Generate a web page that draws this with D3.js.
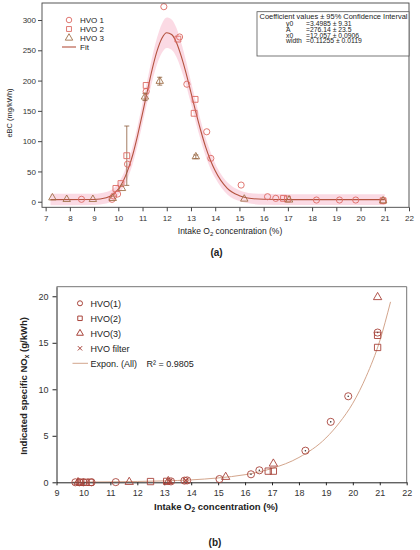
<!DOCTYPE html>
<html>
<head>
<meta charset="utf-8">
<script src="https://cdn.jsdelivr.net/npm/d3@7"></script>
<style>
  body { margin: 0; background: #fff; }
  text { font-family: "Liberation Sans", Arial, sans-serif; }
</style>
</head>
<body>
<script>
// ---- panel (a): eBC vs intake O2 ----
let hvo1A = [[8.48,4],[9.74,4],[9.81,9.4],[9.97,12.7],[10.38,62],[11.15,182],[11.88,322],[12.53,272],[12.83,194],[13.65,115.5],[13.82,71.6],[15.07,27.5],[16.16,8.3],[16.5,5.6],[18.18,2.8],[19.13,2.8],[19.8,2.8],[20.93,1.7]]
let hvo2A = [[9.9,22],[10.11,30],[10.35,76],[11.15,192],[12.46,268.5],[13.17,169],[13.13,146],[16.82,5.6],[16.98,4.5],[20.93,1.7]]
let hvo3A = [[7.28,6.6],[7.87,4],[8.95,4],[9.77,5.6],[10.15,22],[11.1,173],[11.71,199],[13.2,74.3],[15.2,4.5],[17.05,3],[20.93,1.7]]
// error bars: [x, y, +/-]
let errA = [[10.35,76,49],[11.1,173,6],[11.71,199,6.5],[13.2,74.3,3]]

let fitX  = [7.2, 9.0, 9.5, 9.8, 10.0, 10.2, 10.4, 10.6, 10.8, 11.0, 11.2, 11.4, 11.6, 11.8, 12.0, 12.2, 12.4, 12.6, 12.8, 13.0, 13.2, 13.4, 13.6, 13.8, 14.0, 14.5, 15.0, 15.5, 16.0, 17.0, 21.0]
let fitY  = [3.5, 3.8, 6.6, 12.8, 21, 34, 53, 78, 110, 146, 183, 219, 249, 270, 279, 276, 263, 240, 212, 180, 148, 118, 91, 69, 51, 22, 10, 5.4, 4, 3.5, 3.5]
let bandHi = [13, 13, 16, 22, 31, 45, 66, 93, 126, 163, 201, 239, 271, 294, 304, 301, 287, 262, 232, 198, 165, 134, 106, 83, 63, 32, 19, 14, 13, 12.5, 12.5]
let bandLo = [-6, -5.5, -3, 3, 11, 23, 40, 63, 94, 129, 165, 199, 227, 246, 254, 251, 239, 218, 192, 162, 131, 102, 76, 55, 39, 12, 1, -3.5, -5, -5.5, -5.5]

let coefNames = ["y0", "A", "x0", "width"]
let coefValues = ["=3.4985 \u00b1 9.31", "=276.14 \u00b1 23.5", "=12.057 \u00b1 0.0906", "=0.11255 \u00b1 0.0119"]

// ---- panel (b): NOx vs intake O2 ----
let hvo1B = [[9.7,0],[9.85,0],[10.0,0],[10.3,0],[11.2,0.02],[13.25,0.1],[13.75,0.18],[13.85,0.2],[15.05,0.35],[16.22,0.86],[16.53,1.29],[18.24,3.4],[19.18,6.5],[19.83,9.25],[20.92,16.1]]
let hvo2B = [[9.9,0],[10.1,0],[10.25,0],[12.49,0.08],[13.09,0.1],[16.86,1.2],[17.05,1.2],[20.92,15.8],[20.92,14.5]]
let hvo3B = [[9.8,0],[11.7,0.03],[13.15,0.12],[15.28,0.57],[17.05,2.0],[20.92,19.9]]
let filterB = [[13.2,0.12],[13.8,0.2]]
let expX = [9.6, 11, 12, 13, 14, 15, 16, 17, 18, 19, 19.5, 20, 20.5, 21, 21.4]
let expY = [0.02, 0.05, 0.09, 0.15, 0.26, 0.47, 0.82, 1.49, 2.67, 4.76, 6.4, 8.5, 11.4, 15.2, 19.4]

let xTicksA = d3.range(7, 23)
let yTicksA = [0, 50, 100, 150, 200, 250, 300]
let xTicksB = d3.range(9, 23)
let yTicksB = [0, 5, 10, 15, 20]

let markA = "#dc6a63"
let fitA = "#b4533f"
let markB = "#a8433a"
let fitB = "#d3a58c"

let svg = d3.select("body").append("svg")
    .attr("width", 420)
    .attr("height", 550)

// ================= panel (a) =================
let xA = d3.scaleLinear().domain([6.85, 22]).range([42, 409])
let yA = d3.scaleLinear().domain([-9.2, 328.1]).range([207.3, 3])

let gA = svg.append("g")

gA.append("path")
    .datum(fitX.map((x, i) => [x, bandLo[i], bandHi[i]]))
    .attr("fill", "#fad3df")
    .attr("opacity", 0.85)
    .attr("d", d3.area().curve(d3.curveMonotoneX)
      .x(d => xA(d[0])).y0(d => yA(d[1])).y1(d => yA(d[2])))

gA.append("path")
    .datum(fitX.map((x, i) => [x, fitY[i]]))
    .attr("fill", "none")
    .attr("stroke", fitA)
    .attr("stroke-width", 1.1)
    .attr("d", d3.line().curve(d3.curveMonotoneX).x(d => xA(d[0])).y(d => yA(d[1])))

gA.selectAll(".err").data(errA).enter().append("path")
    .attr("fill", "none")
    .attr("stroke", "#8a5a3a")
    .attr("stroke-width", 0.8)
    .attr("d", d => {
      let x = xA(d[0]), y1 = yA(d[1] - d[2]), y2 = yA(d[1] + d[2])
      return "M" + x + "," + y1 + "V" + y2 + "M" + (x - 2.5) + "," + y1 + "H" + (x + 2.5) + "M" + (x - 2.5) + "," + y2 + "H" + (x + 2.5)
    })

function drawMarks(g, data, type, size, color, xs, ys, sw) {
  g.selectAll(null).data(data).enter().append("path")
      .attr("transform", d => "translate(" + xs(d[0]) + "," + ys(d[1]) + ")")
      .attr("d", d3.symbol().type(type).size(size))
      .attr("fill", "none")
      .attr("stroke", color)
      .attr("stroke-width", sw)
}

drawMarks(gA, hvo1A, d3.symbolCircle, 30, markA, xA, yA, 0.9)
drawMarks(gA, hvo2A, d3.symbolSquare, 34, markA, xA, yA, 0.9)
drawMarks(gA, hvo3A, d3.symbolTriangle, 24, "#a0704a", xA, yA, 0.9)

// frame
gA.append("rect")
    .attr("x", 42).attr("y", 3).attr("width", 367).attr("height", 204.3)
    .attr("fill", "none").attr("stroke", "#444").attr("stroke-width", 0.9)

let axA = gA.append("g")
    .attr("transform", "translate(0,207.3)")
    .call(d3.axisBottom(xA).tickValues(xTicksA).tickSize(4).tickSizeOuter(0))
let ayA = gA.append("g")
    .attr("transform", "translate(42,0)")
    .call(d3.axisLeft(yA).tickValues(yTicksA).tickSize(4).tickSizeOuter(0))
;[axA, ayA].forEach(a => {
  a.select(".domain").remove()
  a.selectAll("line").attr("stroke", "#444")
  a.selectAll("text").attr("font-size", 8).attr("fill", "#333")
    .attr("font-family", "Liberation Sans, Arial, sans-serif")
})
axA.selectAll("text").attr("y", 8)
ayA.selectAll("text").attr("x", -6)

let xlabA = gA.append("text")
    .attr("x", 230).attr("y", 234)
    .attr("text-anchor", "middle")
    .attr("font-size", 8.5).attr("fill", "#222")
xlabA.append("tspan").text("Intake O")
xlabA.append("tspan").text("2").attr("font-size", 6).attr("dy", 2)
xlabA.append("tspan").text(" concentration (%)").attr("dy", -2)

gA.append("text")
    .attr("transform", "translate(12,113) rotate(-90)")
    .attr("text-anchor", "middle")
    .attr("font-size", 7.5).attr("fill", "#222")
    .text("eBC (mg/kWh)")

// legend (a)
let legA = [["HVO 1", d3.symbolCircle, markA], ["HVO 2", d3.symbolSquare, markA], ["HVO 3", d3.symbolTriangle, "#a0704a"]]
legA.forEach((l, i) => {
  let y = 20 + i * 9
  gA.append("path")
      .attr("transform", "translate(69," + y + ")")
      .attr("d", d3.symbol().type(l[1]).size(24))
      .attr("fill", "none").attr("stroke", l[2]).attr("stroke-width", 0.9)
  gA.append("text").attr("x", 80).attr("y", y + 3)
      .attr("font-size", 8).attr("fill", "#222").text(l[0])
})
gA.append("line").attr("x1", 62).attr("x2", 76).attr("y1", 47).attr("y2", 47)
    .attr("stroke", fitA).attr("stroke-width", 1.1)
gA.append("text").attr("x", 80).attr("y", 50)
    .attr("font-size", 8).attr("fill", "#222").text("Fit")

// coefficient box
gA.append("rect")
    .attr("x", 257).attr("y", 11.7).attr("width", 152).attr("height", 44.3)
    .attr("fill", "#fff").attr("stroke", "#555").attr("stroke-width", 0.8)
gA.append("text").attr("x", 259.5).attr("y", 18.5)
    .attr("font-size", 7).attr("fill", "#222")
    .attr("textLength", 148).attr("lengthAdjust", "spacingAndGlyphs")
    .text("Coefficient values \u00b1 95% Confidence Interval")
coefNames.forEach((n, i) => {
  let y = 26 + i * 5.8
  gA.append("text").attr("x", 286).attr("y", y)
      .attr("font-size", 6.8).attr("fill", "#222").text(n)
  gA.append("text").attr("x", 306).attr("y", y)
      .attr("font-size", 6.8).attr("fill", "#222").text(coefValues[i])
})

svg.append("text")
    .attr("x", 216.5).attr("y", 256)
    .attr("text-anchor", "middle")
    .attr("font-family", "Liberation Serif, Times New Roman, serif")
    .attr("font-weight", "bold").attr("font-size", 10).attr("fill", "#222")
    .text("(a)")

// ================= panel (b) =================
let xB = d3.scaleLinear().domain([9, 22]).range([56.5, 406.7])
let yB = d3.scaleLinear().domain([0, 21.03]).range([482.3, 286.7])

let gB = svg.append("g")

gB.append("path")
    .datum(expX.map((x, i) => [x, expY[i]]))
    .attr("fill", "none")
    .attr("stroke", fitB)
    .attr("stroke-width", 1)
    .attr("d", d3.line().curve(d3.curveMonotoneX).x(d => xB(d[0])).y(d => yB(d[1])))

// frame lines top/right
gB.append("path")
    .attr("d", "M56.5,286.7H406.7V482.3")
    .attr("fill", "none").attr("stroke", "#666").attr("stroke-width", 0.9)

let axB = gB.append("g")
    .attr("transform", "translate(0,482.3)")
    .call(d3.axisBottom(xB).tickValues(xTicksB).tickSize(3).tickSizeOuter(0))
let ayB = gB.append("g")
    .attr("transform", "translate(56.5,0)")
    .call(d3.axisLeft(yB).tickValues(yTicksB).tickSize(4).tickSizeOuter(0))
;[axB, ayB].forEach(a => {
  a.select(".domain").attr("stroke", "#222")
  a.selectAll("line").attr("stroke", "#222")
  a.selectAll("text").attr("font-size", 9).attr("fill", "#333")
    .attr("font-family", "Liberation Sans, Arial, sans-serif")
})
axB.selectAll("text").attr("y", 7)
ayB.selectAll("text").attr("x", -8)

drawMarks(gB, hvo1B, d3.symbolCircle, 40, markB, xB, yB, 0.9)
gB.selectAll(null).data(hvo1B.filter(d => d[0] > 16)).enter().append("circle")
    .attr("cx", d => xB(d[0])).attr("cy", d => yB(d[1])).attr("r", 0.8)
    .attr("fill", "#333")
drawMarks(gB, hvo2B, d3.symbolSquare, 40, markB, xB, yB, 0.9)
drawMarks(gB, hvo3B, d3.symbolTriangle, 30, markB, xB, yB, 0.9)
drawMarks(gB, filterB, d3.symbolTimes || d3.symbolCross, 20, markB, xB, yB, 1.1)

let xlabB = gB.append("text")
    .attr("x", 216).attr("y", 510)
    .attr("text-anchor", "middle")
    .attr("font-size", 9.5).attr("font-weight", "bold").attr("fill", "#222")
xlabB.append("tspan").text("Intake O")
xlabB.append("tspan").text("2").attr("font-size", 6.5).attr("dy", 2)
xlabB.append("tspan").text(" concentration (%)").attr("dy", -2)

let ylabB = gB.append("text")
    .attr("transform", "translate(27,386) rotate(-90)")
    .attr("text-anchor", "middle")
    .attr("font-size", 9.5).attr("font-weight", "bold").attr("fill", "#222")
ylabB.append("tspan").text("Indicated specific NO")
ylabB.append("tspan").text("x").attr("font-size", 6.5).attr("dy", 2)
ylabB.append("tspan").text(" (g/kWh)").attr("dy", -2)

// legend (b)
let legB = [["HVO(1)", d3.symbolCircle], ["HVO(2)", d3.symbolSquare], ["HVO(3)", d3.symbolTriangle], ["HVO filter", d3.symbolTimes || d3.symbolCross]]
legB.forEach((l, i) => {
  let y = 303.3 + i * 15
  gB.append("path")
      .attr("transform", "translate(80," + y + ")")
      .attr("d", d3.symbol().type(l[1]).size(i == 3 ? 14 : 20))
      .attr("fill", "none").attr("stroke", markB).attr("stroke-width", 1)
  gB.append("text").attr("x", 90.5).attr("y", y + 3.3)
      .attr("font-size", 9).attr("fill", "#222").text(l[0])
})
gB.append("line").attr("x1", 72.5).attr("x2", 88).attr("y1", 363.3).attr("y2", 363.3)
    .attr("stroke", fitB).attr("stroke-width", 1)
gB.append("text").attr("x", 90.5).attr("y", 366.6)
    .attr("font-size", 9).attr("fill", "#222").text("Expon. (All)")
gB.append("text").attr("x", 146.5).attr("y", 366.6)
    .attr("font-size", 9).attr("fill", "#222").text("R\u00b2 = 0.9805")

svg.append("text")
    .attr("x", 215).attr("y", 546)
    .attr("text-anchor", "middle")
    .attr("font-family", "Liberation Serif, Times New Roman, serif")
    .attr("font-weight", "bold").attr("font-size", 10).attr("fill", "#222")
    .text("(b)")
</script>
</body>
</html>
